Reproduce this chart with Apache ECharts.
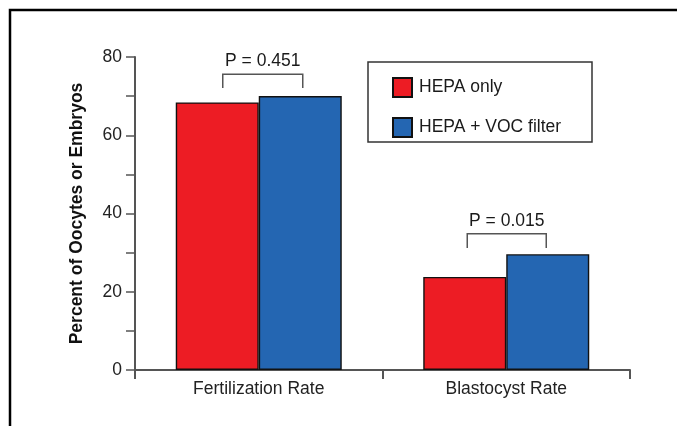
<!DOCTYPE html>
<html>
<head>
<meta charset="utf-8">
<script src="https://cdn.jsdelivr.net/npm/echarts@6/dist/echarts.min.js"></script>
<style>
  html, body { margin: 0; padding: 0; background: #fff; }
  #main { width: 677px; height: 426px; }
</style>
</head>
<body>
<div id="main"></div>
<script>
// data
var categories = ['Fertilization Rate', 'Blastocyst Rate'];
var hepaOnly = [68.4, 23.8];
var hepaVoc = [70.0, 29.6];
var yTicks = [0, 20, 40, 60, 80];

// significance brackets: category index, top/bottom of bracket (axis units), label
var pCats = [0, 1];
var pTop = [75.6, 34.8];
var pBottom = [72.1, 31.2];
var pLabels = ['P = 0.451', 'P = 0.015'];

// horizontal extent of each bracket, pixels from category centre
var bracketSpan = [[-36, 44], [-39, 40]];

var font = 'Liberation Sans, Arial, Helvetica, sans-serif';
var chart = echarts.init(document.getElementById('main'));

var option = {
  animation: false,
  backgroundColor: '#fff',
  textStyle: { fontFamily: font },
  grid: { left: 135, right: 47, top: 57, bottom: 56, containLabel: false },
  legend: {
    left: 387, top: 72, orient: 'vertical',
    itemWidth: 19, itemHeight: 19, itemGap: 19,
    icon: 'rect',
    textStyle: { fontSize: 17.5, color: '#1a1a1a', fontFamily: font, padding: [0, 0, 0, 2] },
    data: ['HEPA only', 'HEPA + VOC filter']
  },
  xAxis: {
    type: 'category',
    data: categories,
    axisLine: { lineStyle: { color: '#555', width: 2 } },
    axisTick: { show: true, length: 9, lineStyle: { color: '#555', width: 2 } },
    axisLabel: { fontSize: 17.5, color: '#222', margin: 10, fontFamily: font }
  },
  yAxis: {
    type: 'value',
    min: yTicks[0], max: yTicks[yTicks.length - 1], interval: 20,
    name: 'Percent of Oocytes or Embryos',
    nameLocation: 'middle',
    nameGap: 49,
    nameTextStyle: { fontSize: 17.5, fontWeight: 'bold', color: '#111', fontFamily: font },
    axisLine: { show: true, lineStyle: { color: '#555', width: 2 } },
    axisTick: { show: true, length: 9, lineStyle: { color: '#555', width: 1.5 } },
    minorTick: { show: true, splitNumber: 2, length: 9, lineStyle: { color: '#555', width: 1.5 } },
    axisLabel: { fontSize: 17.5, color: '#222', margin: 13, fontFamily: font },
    splitLine: { show: false }
  },
  series: [
    {
      name: 'HEPA only', type: 'bar', data: hepaOnly,
      barWidth: 83, barGap: '0%',
      itemStyle: { color: '#ED1C24', borderColor: '#111', borderWidth: 1.4 }
    },
    {
      name: 'HEPA + VOC filter', type: 'bar', data: hepaVoc,
      barWidth: 83,
      itemStyle: { color: '#2466B2', borderColor: '#111', borderWidth: 1.4 }
    },
    {
      type: 'custom',
      silent: true,
      data: pCats.map(function (c, i) { return [c, pTop[i], pBottom[i], i]; }),
      renderItem: function (params, api) {
        var i = api.value(3);
        var top = api.coord([api.value(0), api.value(1)]);
        var bot = api.coord([api.value(0), api.value(2)]);
        var x1 = top[0] + bracketSpan[i][0];
        var x2 = top[0] + bracketSpan[i][1];
        return {
          type: 'group',
          children: [
            {
              type: 'polyline',
              shape: { points: [[x1, bot[1]], [x1, top[1]], [x2, top[1]], [x2, bot[1]]] },
              style: { stroke: '#555', lineWidth: 1.5, fill: null }
            },
            {
              type: 'text',
              style: {
                x: (x1 + x2) / 2, y: top[1] - 4,
                text: pLabels[i], fill: '#1a1a1a',
                font: '17.5px ' + font,
                textAlign: 'center', textVerticalAlign: 'bottom'
              }
            }
          ]
        };
      }
    }
  ],
  graphic: [
    {
      type: 'polyline',
      shape: { points: [[10, 426], [10, 10], [677, 10]] },
      style: { stroke: '#000', lineWidth: 2.5, fill: null }
    },
    {
      type: 'rect',
      shape: { x: 368, y: 62, width: 224, height: 80 },
      style: { stroke: '#333', lineWidth: 1.5, fill: null }
    }
  ]
};

chart.setOption(option);
</script>
</body>
</html>
